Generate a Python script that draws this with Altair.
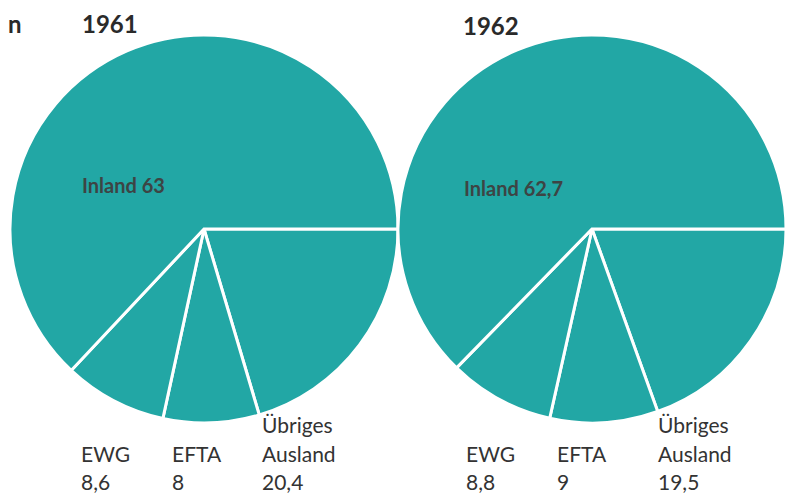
import math
import altair as alt
import pandas as pd

# ---- data ----
years = [1961, 1962]
categories = ["Übriges Ausland", "EFTA", "EWG", "Inland"]
values_1961 = [20.4, 8, 8.6, 63]
values_1962 = [19.5, 9, 8.8, 62.7]
title_prefix = "n"

series = {1961: values_1961, 1962: values_1962}
rows = []
for y in years:
    for i, (c, v) in enumerate(zip(categories, series[y])):
        rows.append({"year": y, "cat": c, "idx": i, "value": v})
df = pd.DataFrame(rows)

TEAL = "#22a7a5"
FONT = "Lato"
TXT = "#333333"


def fmt(v):
    return f"{v:g}".replace(".", ",")


pies = (
    alt.Chart(df)
    .transform_stack(
        stack="value", groupby=["year"], as_=["t0", "t1"],
        sort=[alt.SortField("idx", order="ascending")],
    )
    .mark_arc(radius=194, stroke="white", strokeWidth=3, color=TEAL)
    .encode(
        x=alt.X("year:Q", stack=False,
                scale=alt.Scale(domain=[1961, 1962], range=[196, 584]), axis=None),
        y=alt.value(221),
        theta=alt.Theta("t0:Q", stack=False,
                        scale=alt.Scale(domain=[0, 100], range=[math.pi / 2, math.pi / 2 + 2 * math.pi])),
        theta2="t1:Q",
        detail="cat:N",
    )
)


def label(text, x, y, size=21, bold=False, color=TXT):
    return (
        alt.Chart(pd.DataFrame({"t": [text]}))
        .mark_text(align="left", baseline="alphabetic", font=FONT, fontSize=size,
                   fontWeight="bold" if bold else "normal", color=color)
        .encode(text="t:N", x=alt.value(x), y=alt.value(y))
    )


layers = [pies]
# titles
layers.append(label(title_prefix, 0, 25, size=24, bold=True, color="#2a2a2a"))
layers.append(label(str(years[0]), 74, 25, size=24, bold=True, color="#2a2a2a"))
layers.append(label(str(years[1]), 455, 27, size=24, bold=True, color="#2a2a2a"))
# inland labels
layers.append(label(f"Inland {fmt(values_1961[3])}", 74, 185, size=20, bold=True, color="#3d4444"))
layers.append(label(f"Inland {fmt(values_1962[3])}", 456, 188, size=20, bold=True, color="#3d4444"))

# bottom labels
pos = {1961: {"EWG": 73, "EFTA": 164, "Übriges": 254},
       1962: {"EWG": 458, "EFTA": 549, "Übriges": 650}}
for y in years:
    vals = series[y]
    p = pos[y]
    layers.append(label("EWG", p["EWG"], 454))
    layers.append(label(fmt(vals[2]), p["EWG"], 482))
    layers.append(label("EFTA", p["EFTA"], 454))
    layers.append(label(fmt(vals[1]), p["EFTA"], 482))
    layers.append(label("Übriges", p["Übriges"], 425))
    layers.append(label("Ausland", p["Übriges"], 454))
    layers.append(label(fmt(vals[0]), p["Übriges"], 482))

chart = (
    alt.layer(*layers)
    .properties(width=777, height=485, padding=0, autosize=alt.AutoSizeParams(type="none"))
    .configure_view(stroke=None)
)

chart.save("out.html", embed_options={"renderer": "svg", "actions": False})
